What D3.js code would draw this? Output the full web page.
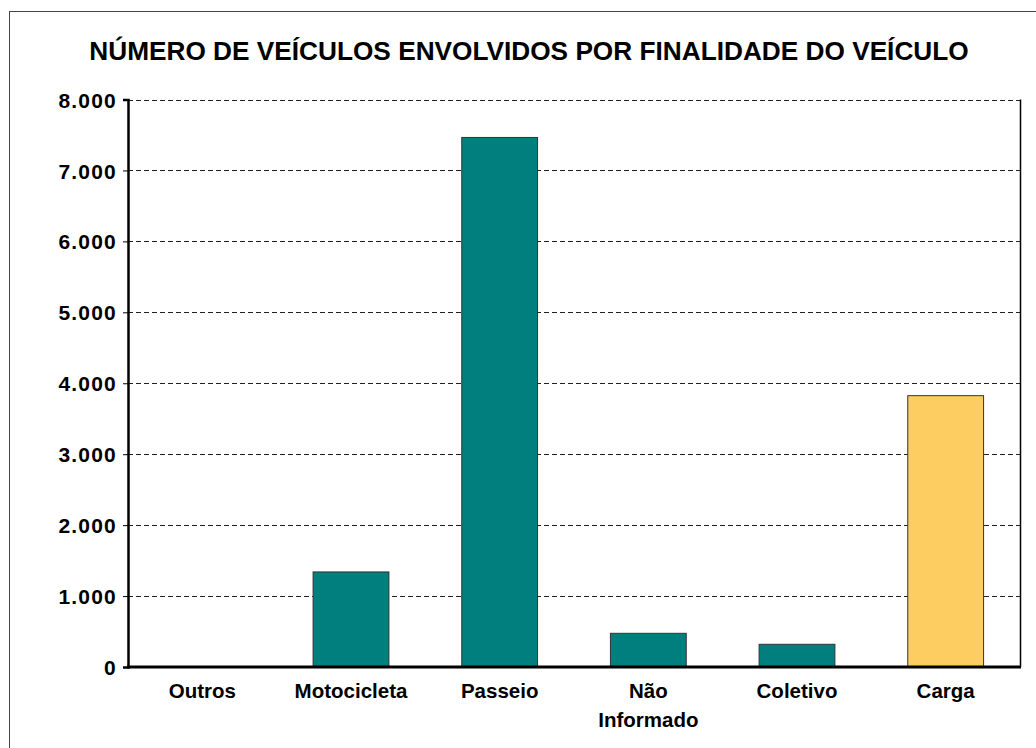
<!DOCTYPE html>
<html>
<head>
<meta charset="utf-8">
<script src="https://cdn.jsdelivr.net/npm/d3@7"></script>
<style>
  body { margin: 0; background: #fff; }
  svg text { font-family: "Liberation Sans", Arial, sans-serif; fill: #000; }
</style>
</head>
<body>
<script>
// data
var categories = ["Outros", "Motocicleta", "Passeio", "Não Informado", "Coletivo", "Carga"];
var values = [0, 1340, 7465, 475, 320, 3825];
var barColors = ["#007f7f", "#007f7f", "#007f7f", "#007f7f", "#007f7f", "#fdcd62"];
var yTicks = [0, 1000, 2000, 3000, 4000, 5000, 6000, 7000, 8000];

var width = 1036, height = 748;
var margin = {left: 128, right: 16, top: 99.5, bottom: 81};

var svg = d3.select("body").append("svg")
    .attr("width", width)
    .attr("height", height);

// outer frame, runs off the right and bottom edges like the original
svg.append("rect")
    .attr("x", 9.5).attr("y", 11.5)
    .attr("width", 1040).attr("height", 760)
    .attr("fill", "none")
    .attr("stroke", "#444");

var title = svg.append("text")
    .attr("x", 529).attr("y", 60)
    .attr("text-anchor", "middle")
    .style("font-size", "29px")
    .style("font-weight", "bold")
    .text("NÚMERO DE VEÍCULOS ENVOLVIDOS POR FINALIDADE DO VEÍCULO");
// shrink the font until the title is as wide as in the original
var tl = title.node().getComputedTextLength();
if (tl > 880) title.style("font-size", (29 * 880 / tl) + "px");

var x = d3.scaleBand()
    .domain(categories)
    .range([margin.left, width - margin.right])
    .paddingInner(0.49)
    .paddingOuter(0.245);

var y = d3.scaleLinear()
    .domain([0, 8000])
    .range([height - margin.bottom, margin.top]);

var fmt = d3.formatLocale({decimal: ",", thousands: ".", grouping: [3], currency: ["R$", ""]}).format(",d");

// dashed grid
svg.append("g")
    .selectAll("line")
    .data(yTicks.filter(d => d > 0))
    .enter().append("line")
    .attr("x1", margin.left).attr("x2", width - margin.right)
    .attr("y1", d => Math.round(y(d)) + 0.5)
    .attr("y2", d => Math.round(y(d)) + 0.5)
    .attr("stroke", "#222")
    .attr("stroke-dasharray", "5,3");

// right frame of the plot
svg.append("line")
    .attr("x1", width - margin.right + 0.5).attr("x2", width - margin.right + 0.5)
    .attr("y1", margin.top).attr("y2", y(0))
    .attr("stroke", "#000").attr("stroke-width", 1.5);

svg.append("g")
    .selectAll("rect")
    .data(values)
    .enter().append("rect")
    .attr("x", (d, i) => x(categories[i]))
    .attr("y", d => y(d))
    .attr("width", x.bandwidth())
    .attr("height", d => y(0) - y(d))
    .attr("fill", (d, i) => barColors[i])
    .attr("stroke", "#333")
    .attr("stroke-width", 1);

// y axis
var yAxis = svg.append("g")
    .attr("transform", "translate(" + margin.left + ",0)")
    .call(d3.axisLeft(y).tickValues(yTicks).tickSize(5).tickPadding(6).tickFormat(fmt));
yAxis.select(".domain").attr("stroke", "#000").attr("stroke-width", 2.5);
yAxis.selectAll(".tick line").attr("stroke", "#000");
yAxis.selectAll("text")
    .attr("dy", "0.36em")
    .style("font-size", "21px")
    .style("font-weight", "bold")
    .style("letter-spacing", "1.2px");

// x axis
var xAxis = svg.append("g")
    .attr("transform", "translate(0," + y(0) + ")")
    .call(d3.axisBottom(x).tickSize(0).tickPadding(0));
xAxis.select(".domain").remove();
xAxis.selectAll(".tick text").remove();
xAxis.selectAll(".tick").each(function(d) {
    var t = d3.select(this).append("text")
        .attr("text-anchor", "middle")
        .style("font-size", "20.5px")
        .style("font-weight", "bold");
    var parts = d == "Não Informado" ? ["Não", "Informado"] : [d];
    parts.forEach(function(p, k) {
        t.append("tspan").attr("x", 0).attr("y", 31 + k * 29).text(p);
    });
});

svg.append("line")
    .attr("x1", margin.left - 1).attr("x2", width - margin.right + 1)
    .attr("y1", y(0)).attr("y2", y(0))
    .attr("stroke", "#000").attr("stroke-width", 3);
</script>
</body>
</html>
